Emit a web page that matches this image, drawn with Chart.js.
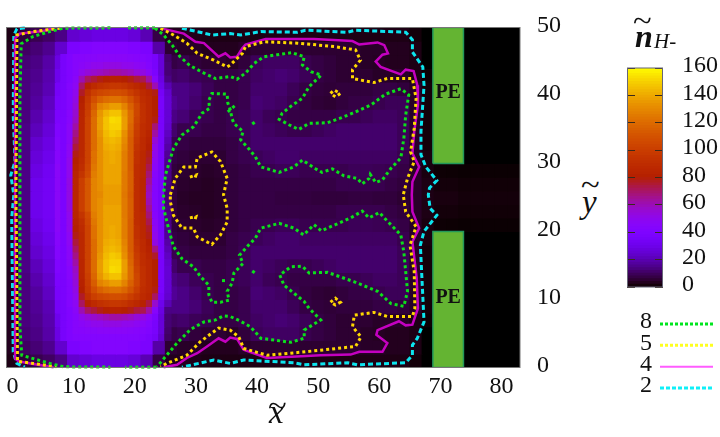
<!DOCTYPE html>
<html>
<head>
<meta charset="utf-8">
<title>n H- density</title>
<script src="https://cdn.jsdelivr.net/npm/chart.js@4"></script>
<style>
    body { margin: 0; background: #fff; width: 720px; height: 437px; position: relative; overflow: hidden; font-family: "Liberation Serif", serif; color: #111; }
    canvas { position: absolute; }
    .lbl { position: absolute; line-height: 1; white-space: nowrap; }
</style>
</head>
<body>
<div style="position:absolute;left:0;top:0;width:575px;height:437px"><canvas id="mapChart"></canvas></div>
<div style="position:absolute;left:627px;top:40px;width:93px;height:280px"><canvas id="barChart"></canvas></div>
<div style="position:absolute;left:620px;top:300px;width:100px;height:120px"><canvas id="keyChart"></canvas></div>

<span class="lbl" style="left:269px;top:396px;font-size:33px;font-style:italic">x</span>
<span class="lbl" style="left:268px;top:391px;font-size:30px;transform:scaleX(1.15);transform-origin:left">~</span>
<span class="lbl" style="left:582px;top:186px;font-size:33px;font-style:italic">y</span>
<span class="lbl" style="left:581px;top:170px;font-size:30px;transform:scaleX(1.15);transform-origin:left">~</span>
<span class="lbl" style="left:635px;top:20px;font-size:32px;font-weight:bold;font-style:italic">n</span>
<span class="lbl" style="left:633px;top:6px;font-size:30px;transform:scaleX(1.15);transform-origin:left">~</span>
<span class="lbl" style="left:654px;top:31px;font-size:21px;font-style:italic">H-</span>

<script>
// Cell centres of the density map
const xCentres = [1,3,5,7,9,11,13,15,17,19,21,23,25,27,29,31,33,35,37,39,41,43,45,47,49,51,53,55,57,59,61,63,65,67,69,71,73,75,77,79,81,83];
const yCentres = [49,47,45,43,41,39,37,35,33,31,29,27,25,23,21,19,17,15,13,11,9,7,5,3,1];

// Density per row, top row first
const densityRows = [
    [2,6,8,10,14,24,26,28,28,28,26,20,7,3,3,2.5,2,2,2,2,2,2,2,2,2,2,2,2,2,2,2,2,2,1,0,0,0,0,0,0,0,0],
    [3,10,12,15,24,38,40,42,42,42,40,38,18,5,4,4,3,3,3,4,5,5,5,5,5,5,5,5,5,4,4,3,3,2,0,0,0,0,0,0,0,0],
    [3,12,14,18,28,42,45,46,48,48,46,44,28,7,8,6,5,5,4,6,9,10,10,10,8,7,6,5,5,4,3.5,3,3,2,0,0,0,0,0,0,0,0],
    [3,13,15,19,30,42,50,62,70,75,72,66,36,10,11,9,8,7,7,8,10,11,12,11,9,7,6,5,5,5,4,4,4,2,0.5,0,0,0,0,0,0,0],
    [3,13,16,20,34,46,78,90,100,105,100,80,48,14,14,12,9,7,7,8,11,11,11,9,7,6,5.5,6,6,6,7,7,6,4,1,0,0,0,0,0,0,0],
    [3,13,17,22,36,52,92,105,125,130,115,88,58,16,14,11,8,7,7,8,12,11,10,8,6.5,5.5,5,6,7,7,8,9,9,4,1,0,0,0,0,0,0,0],
    [3,13,19,24,38,62,100,115,138,143,125,90,54,14,12,9,8,7,8,9,11,9,8,7,7,7,7,8,8,9,10,10,9,4,1,0,0,0,0,0,0,0],
    [3,14,21,26,40,76,104,118,135,142,120,85,48,11,8,8,7,7,8,9,11,10,9,8,8,9,10,11,11,11,11,11,9,4,1,0,0,0,0,0,0,0],
    [3,14,24,28,42,80,105,120,130,132,112,82,44,8,7,6,6,6,7,8.5,11,11,11,11,11,11,11,11,11,11,11,11,9,4,1,0,0,0,0,0,0,0],
    [3,14,26,30,44,80,105,122,128,128,110,84,40,7,6,5,5,5,7,8,9,10,11,11,10,10,10,10,10,10,10,10,8,4,1.5,0,0,0,0,0,0,0],
    [3,14,28,32,46,80,105,122,128,125,110,85,36,6,5,4.5,4,4.5,6,7,8,8,9,9,8,8,8,8,9,9,8.5,8,7,4,1.5,0.5,0.4,0.3,0.3,0.3,0.3,0.3],
    [3,14,30,33,46,78,105,124,130,130,110,82,32,6,4.5,4,3.5,4,6,7,7,7,7,7,7,7,7,8,8,8,8,7,6,4,2,1,1,0.7,0.7,0.7,0.7,0.7],
    [3,14,30,33,46,76,105,125,132,135,110,80,30,6,4,3.5,3.5,4,6,7,7,7,6.5,6.5,6.5,6,6,6,6.5,6.5,6,6,5,4,2,1.5,1.5,1,1,1,1,1],
    [3,14,30,33,46,78,105,124,130,130,110,82,32,6,4.5,4,3.5,4,6,7,7,7,7,7,7,7,7,8,8,8,8,7,6,4,2,1,1,0.7,0.7,0.7,0.7,0.7],
    [3,14,28,32,46,80,105,122,128,125,110,85,36,6,5,4.5,4,4.5,6,7,8,8,9,9,8,8,8,8,9,9,8.5,8,7,4,1.5,0.5,0.4,0.3,0.3,0.3,0.3,0.3],
    [3,14,26,30,44,80,105,122,128,128,110,84,40,7,6,5,5,5,7,8,9,10,11,11,10,10,10,10,10,10,10,10,8,4,1.5,0,0,0,0,0,0,0],
    [3,14,24,28,42,80,105,120,130,132,112,82,44,8,7,6,6,6,7,8.5,11,11,11,11,11,11,11,11,11,11,11,11,9,4,1,0,0,0,0,0,0,0],
    [3,14,21,26,40,76,104,118,135,142,120,85,48,11,8,8,7,7,8,9,11,10,9,8,8,9,10,11,11,11,11,11,9,4,1,0,0,0,0,0,0,0],
    [3,13,19,24,38,62,100,115,138,143,125,90,54,14,12,9,8,7,8,9,11,9,8,7,7,7,7,8,8,9,10,10,9,4,1,0,0,0,0,0,0,0],
    [3,13,17,22,36,52,92,105,125,130,115,88,58,16,14,11,8,7,7,8,12,11,10,8,6.5,5.5,5,6,7,7,8,9,9,4,1,0,0,0,0,0,0,0],
    [3,13,16,20,34,46,78,90,100,105,100,80,48,14,14,12,9,7,7,8,11,11,11,9,7,6,5.5,6,6,6,7,7,6,4,1,0,0,0,0,0,0,0],
    [3,13,15,19,30,42,50,62,70,75,72,66,36,10,11,9,8,7,7,8,10,11,12,11,9,7,6,5,5,5,4,4,4,2,0.5,0,0,0,0,0,0,0],
    [3,12,14,18,28,42,45,46,48,48,46,44,28,7,8,6,5,5,4,6,9,10,10,10,8,7,6,5,5,4,3.5,3,3,2,0,0,0,0,0,0,0,0],
    [3,10,12,15,24,38,40,42,42,42,40,38,18,5,4,4,3,3,3,4,5,5,5,5,5,5,5,5,5,4,4,3,3,2,0,0,0,0,0,0,0,0],
    [2,6,8,10,14,24,26,28,28,28,26,20,7,3,3,2.5,2,2,2,2,2,2,2,2,2,2,2,2,2,2,2,2,2,1,0,0,0,0,0,0,0,0]
];

// Finer cells over the hot band
const hotXCentres = [9.4,10.4,11.4,12.4,13.4,14.4,15.4,16.4,17.4,18.4,19.4,20.4,21.4,22.4,23.4,24.4,25.4,26.4];
const hotYCentres = [45.5,44.5,43.5,42.5,41.5,40.5,39.5,38.5,37.5,36.5,35.5,34.5,33.5,32.5,31.5,30.5,29.5,28.5,27.5,26.5,25.5,24.5,23.5,22.5,21.5,20.5,19.5,18.5,17.5,16.5,15.5,14.5,13.5,12.5,11.5,10.5,9.5,8.5,7.5,6.5,5.5,4.5];
const hotRows = [
    [36,40,44,44,45,45,46,46,46,46,46,45,44,42,40,36,26,11],
    [36,40,44,46,48,50,50,52,52,52,50,50,48,46,42,36,26,12],
    [36,40,44,50,54,56,58,60,62,62,60,58,54,52,46,38,26,12],
    [36,40,46,60,70,74,78,80,82,82,80,78,74,72,62,44,28,14],
    [36,42,48,70,82,88,92,94,96,96,94,90,86,82,74,60,30,20],
    [37,42,50,76,92,100,104,106,108,108,106,100,94,88,84,78,34,24],
    [37,42,52,80,96,108,116,120,122,122,118,110,100,90,86,80,36,25],
    [37,42,54,82,98,114,128,132,136,136,128,116,104,92,86,80,36,25],
    [37,44,56,84,100,118,134,142,146,146,134,120,104,92,86,80,36,25],
    [38,44,58,85,102,120,136,146,152,151,136,120,102,92,86,78,36,25],
    [38,46,62,85,102,120,136,146,150,150,136,118,100,90,86,68,36,24],
    [38,46,66,86,102,120,134,144,148,146,132,116,98,90,84,62,36,22],
    [38,46,70,86,102,120,132,142,144,142,130,114,96,88,82,54,36,20],
    [38,48,74,86,102,120,132,140,142,140,128,114,94,88,80,50,36,18],
    [38,48,78,86,102,122,132,138,140,138,126,114,92,86,78,50,36,16],
    [38,50,80,88,102,122,132,138,140,138,126,114,92,86,76,48,36,15],
    [38,50,82,90,104,124,132,138,138,138,126,114,90,86,72,46,36,14],
    [38,50,84,94,106,126,132,138,138,138,125,115,90,86,68,44,36,14],
    [38,52,85,100,112,128,132,138,138,138,125,115,90,85,64,42,36,13],
    [38,52,85,100,112,128,132,136,136,136,125,115,90,85,60,42,36,12],
    [38,52,85,100,112,128,130,136,136,136,124,114,90,85,58,42,36,12],
    [38,52,85,100,112,128,132,136,136,136,125,115,90,85,60,42,36,12],
    [38,52,85,100,112,128,132,138,138,138,125,115,90,85,64,42,36,13],
    [38,50,84,94,106,126,132,138,138,138,125,115,90,86,68,44,36,14],
    [38,50,82,90,104,124,132,138,138,138,126,114,90,86,72,46,36,14],
    [38,50,80,88,102,122,132,138,140,138,126,114,92,86,76,48,36,15],
    [38,48,78,86,102,122,132,138,140,138,126,114,92,86,78,50,36,16],
    [38,48,74,86,102,120,132,140,142,140,128,114,94,88,80,52,36,18],
    [38,46,70,86,102,120,132,142,144,142,130,114,96,88,82,66,36,20],
    [38,46,66,86,102,120,134,144,148,146,132,116,98,90,84,76,36,22],
    [38,46,62,85,102,120,136,146,150,150,136,118,100,90,86,80,36,24],
    [38,44,58,85,102,120,136,146,152,151,136,120,102,92,86,80,36,25],
    [37,44,56,84,100,118,134,142,146,146,134,120,104,92,86,80,36,25],
    [37,42,54,82,98,114,128,132,136,136,128,116,104,92,86,80,36,25],
    [37,42,52,80,96,108,116,120,122,122,118,110,100,90,86,78,36,25],
    [37,42,50,76,92,100,104,106,108,108,106,100,94,88,84,70,34,24],
    [36,42,48,70,82,88,92,94,96,96,94,90,86,82,74,56,30,20],
    [36,40,46,60,70,74,78,80,82,82,80,78,74,72,62,44,28,14],
    [36,40,44,50,54,56,58,60,62,62,60,58,54,52,46,38,26,12],
    [36,40,44,46,48,50,50,52,52,52,50,50,48,46,42,36,26,12],
    [36,40,44,44,45,45,46,46,46,46,46,45,44,42,40,36,26,11],
    [36,40,42,42,42,42,42,42,42,42,42,42,42,40,38,34,24,10]
];

const xTickValues = [0,10,20,30,40,50,60,70,80];
const yTickValues = [0,10,20,30,40,50];
const colourTickValues = [0,20,40,60,80,100,120,140,160];
const contourLevels = ['8','5','4','2'];

// Electrode outlines
const peUpper = [[69.75,30],[74.75,30],[74.75,50],[69.75,50],[69.75,30]];
const peLower = [[69.75,0],[74.75,0],[74.75,20],[69.75,20],[69.75,0]];
const peLabels = [[72.25,40.4],[72.25,10.3]];

// Level 8 contour
const green1 = [[24.3,49.9],[25.7,48.9],[27.1,47.4],[28.4,45.7],[30,44.4],[32.3,43.3],[34.2,42.5],[36.6,42.8],[37.7,42.4],[39.1,43.3],[40.5,44.7],[42.1,45.7],[44.3,46],[46.7,46.3],[48.7,45.7],[48.4,44.5],[49.8,43.5],[51.5,43],[49.5,41.3],[48.4,39.6],[46.5,38.4],[45.1,37.4],[44.6,36.5],[46.2,35.7],[47.8,35],[49.5,35.9],[52.5,36],[54.7,36.7],[56.6,37.4],[59.6,38.6],[62,40.2],[64.5,41],[65.8,40.1],[65.3,37.1],[65,33.7],[64.5,30.8],[62.9,29.3],[61.5,27.6],[60.4,27.2],[59.5,28.4],[59.3,27.8],[58.2,27],[57.4,27.8],[55.2,28.2],[53.3,29.2],[51.6,28.7],[50.6,29.2],[48.4,30.5],[47,29.5],[44.6,28.7],[41.6,29.5],[40.7,31],[39.6,32.2],[38.3,33.5],[38.7,34.7],[37.2,35.9],[36.9,36.6],[36.6,37.9],[36.2,38.9],[36.1,40.2],[33.6,40.3],[33.1,39.3],[33.2,38.1],[32,37.4],[30.6,35.4],[28.7,34.2],[27.3,32.2],[26,28.3],[25.7,25.4],[25.7,23.4],[26.5,20.5],[27.3,17.8],[28.7,16],[30.6,14.8],[31.7,13.4],[33.1,12.1],[33.1,10.7],[33.6,9.6],[35,9.6],[36.4,9.9],[36.1,11.2],[36.9,12.4],[37.2,13.9],[38.7,15.3],[38.1,16.5],[39.6,18],[40.7,19],[41.6,20.5],[44.6,21.2],[47,20.5],[48.6,19.5],[50.3,21],[51.5,20.1],[53.8,21],[56.3,22],[58.2,23],[59.3,22],[61,22.8],[61.8,22],[64.5,19.5],[65,17],[65.6,11.2],[65,9],[62.9,9.4],[60.7,11.2],[56.9,12.6],[52.5,14],[49.5,13.9],[48.4,14.9],[46.5,14.8],[44.7,13.6],[45.4,12.1],[48.7,9.7],[49.5,8.7],[51.4,7],[48.7,5.5],[48.7,4.3],[46.5,3.7],[41.6,4.3],[39.9,6],[38.3,6.8],[36.6,7.5],[35.5,7.6],[34.2,7],[32.3,6.7],[30.1,5.6],[27.9,3.6],[26.2,1.8],[24.6,0.1]];
const green2 = [[17,49.95],[9.3,49.9],[7.1,49.4],[4.4,48.7],[2.4,47.6],[2.2,40],[2.2,25.4],[2.2,5.8],[2.5,1.8],[4.4,1.3],[7.1,0.6],[9.3,0.1],[17,0.05]];
const green3 = [[24.3,49.95],[19.4,49.95]];
const green4 = [[24.5,0.05],[19.4,0.05]];
const green5 = [[36.2,37.6],[37.5,38.6]];
const green6 = [[40.2,35.8],[40.8,36.2]];
const green7 = [[40.2,14.2],[40.8,13.8]];
const green8 = [[35.5,13],[35.5,12.2]];

// Level 5 contour
const yellow1 = [[25.2,49.9],[27.3,48.9],[29.5,47.7],[31.2,46.2],[33.9,45.2],[36.1,44.2],[36.6,44.5],[38.6,46.2],[39.1,47.2],[42.1,47.9],[47.6,47.7],[53.6,47.2],[57.1,46.7],[57.9,45.2],[56.6,43.8],[56.6,42.5],[60.1,41.9],[62.3,42.5],[66.4,42.5],[67,39.6],[66.7,35.2],[66.1,31.7],[66.7,30.3],[65.6,27.8],[64.9,25.4],[65.3,22.9],[67,20.7],[66,18],[66.7,14.1],[66.8,8.7],[66.4,7.5],[62.3,7.5],[60.1,8.1],[56.9,7.7],[56.6,6],[58,4.5],[57.1,3.1],[53,2.7],[47.6,2.2],[42.6,1.8],[38.8,2.8],[38,4.5],[36.6,5.5],[34.7,5.8],[31.7,3.8],[29.5,1.8],[26.2,0.6],[25.2,0.1]];
const yellow2 = [[8.8,49.9],[4.4,49.4],[1.7,48.9],[1.55,25.4],[1.8,0.9],[4.4,0.6],[8.2,0.1]];
const yellow3 = [[26.8,25.4],[27.6,27.8],[29,29.5],[30.9,29.5],[31.2,30.8],[33.6,31.7],[35,30.3],[36.1,27.8],[35.5,25.4],[36.1,23.4],[36.1,21.4],[35,19.5],[33.6,18.1],[31.2,19.2],[30.6,20.5],[28.7,20.5],[27.3,22.4],[26.8,24.4],[26.8,25.4]];
const yellow4 = [[30,28],[31,28.3],[30.8,27.8]];
const yellow5 = [[30,22],[31,22.2],[30.8,21.6]];
const yellow6 = [[53,40.3],[53.6,40.8],[54.6,40.3],[53.8,39.8],[53,40.3]];
const yellow7 = [[53,9.6],[53.8,10.2],[54.6,9.6],[53.8,9.2],[53,9.6]];

// Level 4 contour
const magenta1 = [[25.7,49.8],[29,49.1],[30.9,47.9],[32.3,47.7],[34.7,45.7],[35.8,46.2],[36.6,45.6],[37.7,45.7],[38.6,47],[39.1,47.5],[42.4,48.3],[50.3,48.3],[56.6,48],[57.7,47.5],[60.7,47.8],[61.8,47.4],[62.4,46.2],[61.5,46],[60.4,45],[61.2,44.2],[64.5,43.1],[65.3,43.8],[66.6,43.6],[67.2,41.5],[67.3,38.6],[66.7,34.7],[66.4,31.5],[67.5,29.5],[66.4,27.3],[66.3,25.4],[66.4,22.9],[67.5,20.5],[66.4,18.5],[67.1,13.1],[67.3,8.7],[66.4,6.3],[65.3,6.2],[64.2,6.8],[60.7,5.5],[60.5,4.8],[62.3,3.6],[61.5,2.3],[57.7,2.3],[56.3,1.9],[51.4,1.8],[42.6,1.4],[38.8,2.6],[37.7,4.2],[36.6,4.4],[35.8,3.8],[34.7,4.3],[32.8,3.1],[31.2,2.1],[29.5,1.4],[27.9,0.4],[25.7,0.05]];
const magenta2 = [[7.9,49.9],[6,49.5],[2.2,49.1],[1.4,48.4],[1.4,25.4],[1.4,1.3],[2,0.9],[4.4,0.5],[7.7,0.05]];

// Level 2 contour
const cyan1 = [[28.7,49.9],[33.6,48.9],[36.6,49.1],[38.3,48.9],[41.6,49.4],[47.6,49.3],[48.9,49.6],[55.8,49.3],[57.1,49.6],[65.3,49.3],[66.4,48.2],[66.4,46.4],[68.1,44.2],[68.3,41.5],[67.8,34.7],[67.8,31.3],[68.6,29.5],[70.4,27.5],[69.2,26.4],[69,25.4],[69.3,23.4],[70.4,22.4],[68.3,20],[67.7,18],[68.3,6.7],[67.2,4.3],[66.4,3.3],[66.4,1.8],[65.3,0.7],[57.4,0.4],[55.8,0.7],[48.7,0.4],[47,0.7],[38.8,1.1],[36.6,0.6],[33.9,1.1],[28.7,0.05]];
const cyan2 = [[3,49.95],[1.7,49.8],[1.2,48.9],[1.1,37.1],[1.4,30.3],[0.7,28.3],[1.2,25.4],[0.85,22],[1.1,2.3],[1.7,0.6],[3,0.05]];

// gnuplot palette 7,5,15 over 0..160
function densityColour(v) {
    const t = Math.min(v / 160, 1);
    const r = Math.sqrt(t) * 255;
    const g = t * t * t * 255;
    const b = Math.max(Math.sin(2 * Math.PI * t), 0) * 255;
    return `rgb(${Math.round(r)},${Math.round(g)},${Math.round(b)})`;
}

const serif = 'Liberation Serif';
const tickFont = { family: serif, size: 24 };

// Stops Chart.js pushing the plot in to make room for the end tick labels
function fitY(width) {
    return s => { s.width = width; s.paddingTop = 0; s.paddingBottom = 0; };
}

function contourSet(points, colour, width, dash) {
    return {
        type: 'scatter', data: points, showLine: true, order: 0,
        borderColor: colour, borderWidth: width, borderDash: dash,
        pointRadius: 0, fill: false, tension: 0, clip: false
    };
}

function peSet(points) {
    return {
        type: 'scatter', data: points, showLine: true, order: 1,
        borderColor: '#23985a', borderWidth: 1.5, backgroundColor: '#64b432',
        pointRadius: 0, fill: 'shape', tension: 0
    };
}

// Bars take their width from the smallest gap between all bar centres (0.4 here)
const smallestGap = 0.4;

function cellSets(rows, xs, ys, cellSize, order) {
    return rows.map((row, i) => ({
        type: 'bar', order: order, grouped: false, inflateAmount: 0.6,
        barPercentage: cellSize / smallestGap, categoryPercentage: 1,
        data: row.map((v, j) => ({ x: xs[j], y: [ys[i] - cellSize / 2, ys[i] + cellSize / 2] })),
        backgroundColor: row.map(densityColour)
    }));
}

const lineSets = [
    ...[green1, green2, green3, green4, green5, green6, green7, green8].map(p => contourSet(p, '#0be01b', 3, [3, 3])),
    ...[yellow1, yellow2, yellow3, yellow4, yellow5, yellow6, yellow7].map(p => contourSet(p, '#ffd800', 3, [3, 3])),
    ...[magenta1, magenta2].map(p => contourSet(p, '#c400c0', 2.5, [])),
    ...[cyan1, cyan2].map(p => contourSet(p, '#0ce4ee', 3, [5, 3]))
];

const frameAndLabels = {
    id: 'frameAndLabels',
    afterDatasetsDraw(chart) {
        const { ctx, chartArea: a, scales } = chart;
        ctx.save();
        ctx.strokeStyle = '#777';
        ctx.lineWidth = 1;
        ctx.strokeRect(a.left, a.top, a.right - a.left, a.bottom - a.top);
        ctx.fillStyle = '#111';
        ctx.font = `bold 20px "${serif}"`;
        ctx.textAlign = 'center';
        ctx.textBaseline = 'middle';
        peLabels.forEach(p => ctx.fillText('PE', scales.x.getPixelForValue(p[0]), scales.y.getPixelForValue(p[1])));
        ctx.restore();
    }
};

new Chart(document.getElementById('mapChart'), {
    type: 'bar',
    data: {
        datasets: [
            ...lineSets, peSet(peUpper), peSet(peLower),
            ...cellSets(hotRows, hotXCentres, hotYCentres, 1, 2),
            ...cellSets(densityRows, xCentres, yCentres, 2, 3)
        ]
    },
    options: {
        responsive: true, maintainAspectRatio: false, animation: false,
        layout: { padding: { left: 6.5, top: 27.5, right: 0, bottom: 0 } },
        plugins: { legend: { display: false }, tooltip: { enabled: false } },
        scales: {
            x: {
                type: 'linear', min: 0, max: 84, offset: false,
                afterBuildTicks: s => { s.ticks = xTickValues.map(v => ({ value: v })); },
                afterFit: s => { s.height = 69.5; s.paddingLeft = 0; s.paddingRight = 0; },
                grid: { display: false, drawTicks: false, offset: false },
                border: { display: false },
                ticks: { font: tickFont, color: '#111', padding: 5, labelOffset: 6, maxRotation: 0, autoSkip: false }
            },
            y: {
                type: 'linear', position: 'right', min: 0, max: 50,
                afterBuildTicks: s => { s.ticks = yTickValues.map(v => ({ value: v })); },
                afterFit: fitY(55),
                grid: { display: false, drawTicks: false },
                border: { display: false },
                ticks: { font: tickFont, color: '#111', padding: 17, labelOffset: -2, autoSkip: false }
            }
        }
    },
    plugins: [frameAndLabels]
});

// Colour scale, one thin bar per 2 units
const colourSteps = Array.from({ length: 80 }, (_, i) => i * 2);
new Chart(document.getElementById('barChart'), {
    type: 'bar',
    data: {
        labels: [''],
        datasets: colourSteps.map(v => ({
            data: [[v, v + 2]], backgroundColor: densityColour(v + 1), inflateAmount: 0.6,
            grouped: false, barPercentage: 1, categoryPercentage: 1
        }))
    },
    options: {
        responsive: true, maintainAspectRatio: false, animation: false,
        layout: { padding: { top: 28, bottom: 33, left: 0, right: 0 } },
        plugins: { legend: { display: false }, tooltip: { enabled: false } },
        scales: {
            x: { display: false },
            y: {
                type: 'linear', position: 'right', min: 0, max: 160,
                afterBuildTicks: s => { s.ticks = colourTickValues.map(v => ({ value: v })); },
                afterFit: fitY(57),
                grid: { drawTicks: false, z: 1, color: '#3a2a1a', lineWidth: 1 },
                border: { display: false, dash: [8, 20, 8] },
                ticks: { font: tickFont, color: '#111', padding: 19, labelOffset: -2, autoSkip: false }
            }
        }
    },
    plugins: [{
        id: 'barFrame',
        afterDraw(chart) {
            const { ctx, chartArea: a } = chart;
            ctx.save();
            ctx.strokeStyle = '#667';
            ctx.strokeRect(a.left + 0.5, a.top, a.right - a.left - 1, a.bottom - a.top);
            ctx.restore();
        }
    }]
});

// Contour key: top line is level 8
const keyColours = ['#00e61e', '#ffff20', '#ff5cff', '#10f0f8'];
const keyDashes = [[3, 2], [3, 2], [], [4, 2]];
new Chart(document.getElementById('keyChart'), {
    type: 'scatter',
    data: {
        datasets: contourLevels.map((lev, i) => ({
            data: [[0, 3 - i], [1, 3 - i]], showLine: true, pointRadius: 0, clip: false,
            borderColor: keyColours[i], borderWidth: i === 2 ? 2 : 3, borderDash: keyDashes[i]
        }))
    },
    options: {
        responsive: true, maintainAspectRatio: false, animation: false,
        layout: { padding: { top: 24, bottom: 32, left: 0, right: 7 } },
        plugins: { legend: { display: false }, tooltip: { enabled: false } },
        scales: {
            x: { display: false, type: 'linear', min: 0, max: 1 },
            y: {
                type: 'linear', min: 0, max: 3,
                afterBuildTicks: s => { s.ticks = [3, 2, 1, 0].map(v => ({ value: v })); },
                afterFit: fitY(40),
                grid: { display: false, drawTicks: false },
                border: { display: false },
                ticks: {
                    font: tickFont, color: '#111', padding: 8, labelOffset: -2, autoSkip: false,
                    callback: v => contourLevels[3 - v]
                }
            }
        }
    }
});
</script>
</body>
</html>
